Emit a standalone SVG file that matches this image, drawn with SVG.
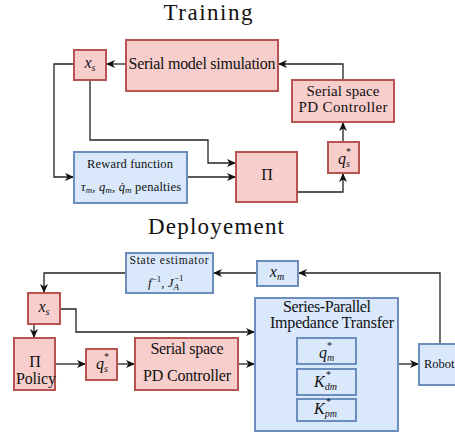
<svg xmlns="http://www.w3.org/2000/svg" width="455" height="437" viewBox="0 0 455 437" font-family="'Liberation Serif', serif">
<style>
text{fill:#111}
.red{fill:#f8cecc;stroke:#b85450;stroke-width:2}
.blue{fill:#dae8fc;stroke:#6c8ebf;stroke-width:2}
.c{fill:none;stroke:#222;stroke-width:1.3;marker-end:url(#ah)}
.i{font-style:italic}
.t{font-size:23px}
.l{font-size:16px}
.s{font-size:12.5px}
</style>
<defs>
<marker id="ah" markerUnits="userSpaceOnUse" markerWidth="10" markerHeight="10" refX="9" refY="4" orient="auto">
<path d="M0,0 L9,4 L0,8 L2.5,4 z" fill="#111"/>
</marker>
</defs>
<rect width="455" height="437" fill="#fff"/>
<text class="t" x="208" y="20" text-anchor="middle" textLength="89">Training</text>
<text class="t" x="216" y="234" text-anchor="middle" textLength="136">Deployement</text>

<g id="connectors">
<path class="c" d="M126,64 H106"/>
<path class="c" d="M343,80 V64 H278"/>
<path class="c" d="M343,142 V122"/>
<path class="c" d="M297,192 H343 V173"/>
<path class="c" d="M74,64 H54 V177 H74"/>
<path class="c" d="M90,80 V140 H208 V163 H236"/>
<path class="c" d="M187,177 H236"/>
<path class="c" d="M440,344 V273 H298"/>
<path class="c" d="M257,273 H213"/>
<path class="c" d="M126,273 H44 V293"/>
<path class="c" d="M34,324 V338"/>
<path class="c" d="M60,309 H76 V332 H255"/>
<path class="c" d="M55,364 H86"/>
<path class="c" d="M117,364 H135"/>
<path class="c" d="M238,364 H255"/>
<path class="c" d="M398,364 H419"/>
</g>

<g id="train-xs">
<rect class="red" x="74" y="50" width="32" height="30"/>
<text class="l" x="90" y="68" text-anchor="middle"><tspan class="i">x</tspan><tspan class="i" font-size="10" dy="3">s</tspan></text>
</g>
<g id="train-sim">
<rect class="red" x="126" y="40" width="152" height="51"/>
<text class="l" x="202" y="69" text-anchor="middle" textLength="147">Serial model simulation</text>
</g>
<g id="train-pd">
<rect class="red" x="292" y="80" width="102" height="42"/>
<text x="343" y="96" font-size="15" text-anchor="middle" textLength="73">Serial space</text>
<text x="343" y="112" font-size="15" text-anchor="middle" textLength="89">PD Controller</text>
</g>
<g id="train-qs">
<rect class="red" x="328" y="142" width="31" height="31"/>
<text class="l" x="338" y="164"><tspan class="i">q</tspan><tspan class="i" font-size="10" dy="3">s</tspan></text>
<text x="346" y="155" font-size="10">*</text>
</g>
<g id="train-pi">
<rect class="red" x="236" y="152" width="61" height="50"/>
<text class="l" x="267" y="180" text-anchor="middle">Π</text>
</g>
<g id="train-reward">
<rect class="blue" x="74" y="152" width="113" height="51"/>
<text class="s" x="130" y="168" text-anchor="middle" textLength="86">Reward function</text>
<text class="s" x="131" y="191" text-anchor="middle" textLength="100"><tspan class="i">τ</tspan><tspan class="i" font-size="9" dy="2">m</tspan><tspan dy="-2">, </tspan><tspan class="i">q</tspan><tspan class="i" font-size="9" dy="2">m</tspan><tspan dy="-2">, </tspan><tspan class="i">q̇</tspan><tspan class="i" font-size="9" dy="2">m</tspan><tspan dy="-2"> penalties</tspan></text>
</g>

<g id="dep-estimator">
<rect class="blue" x="126" y="253" width="87" height="40"/>
<text x="169" y="264" font-size="11.5" text-anchor="middle" textLength="79">State estimator</text>
<text x="148" y="287" font-size="13"><tspan class="i">f</tspan><tspan font-size="9" dy="-5">−1</tspan><tspan dy="5">, </tspan><tspan class="i">J</tspan><tspan class="i" font-size="9" dy="3">A</tspan></text>
<text x="174" y="281" font-size="9">−1</text>
</g>
<g id="dep-xm">
<rect class="blue" x="257" y="261" width="41" height="25"/>
<text class="l" x="277" y="277" text-anchor="middle"><tspan class="i">x</tspan><tspan class="i" font-size="10" dy="3">m</tspan></text>
</g>
<g id="dep-xs">
<rect class="red" x="28" y="293" width="32" height="31"/>
<text class="l" x="44" y="312" text-anchor="middle"><tspan class="i">x</tspan><tspan class="i" font-size="10" dy="3">s</tspan></text>
</g>
<g id="dep-policy">
<rect class="red" x="14" y="338" width="41" height="52"/>
<text class="l" x="35" y="367" text-anchor="middle">Π</text>
<text class="l" x="36" y="384" text-anchor="middle" textLength="40">Policy</text>
</g>
<g id="dep-qs">
<rect class="red" x="86" y="349" width="31" height="31"/>
<text class="l" x="96" y="369"><tspan class="i">q</tspan><tspan class="i" font-size="10" dy="3">s</tspan></text>
<text x="104" y="360" font-size="10">*</text>
</g>
<g id="dep-pd">
<rect class="red" x="135" y="338" width="103" height="52"/>
<text class="l" x="187" y="354" text-anchor="middle" textLength="73">Serial space</text>
<text class="l" x="187" y="381" text-anchor="middle" textLength="88">PD Controller</text>
</g>
<g id="dep-transfer">
<rect class="blue" x="255" y="298" width="143" height="133"/>
<text class="l" x="327" y="312" text-anchor="middle" textLength="88">Series-Parallel</text>
<text class="l" x="332" y="328" text-anchor="middle" textLength="124">Impedance Transfer</text>
<rect class="blue" x="297" y="338" width="59" height="26"/>
<text class="l" x="319" y="358"><tspan class="i">q</tspan><tspan class="i" font-size="10" dy="3">m</tspan></text>
<text x="327" y="349" font-size="10">*</text>
<rect class="blue" x="297" y="369" width="59" height="26"/>
<text class="l" x="314" y="387"><tspan class="i">K</tspan><tspan class="i" font-size="10" dy="3">dm</tspan></text>
<text x="326" y="378" font-size="10">*</text>
<rect class="blue" x="297" y="399" width="59" height="22"/>
<text class="l" x="314" y="414"><tspan class="i">K</tspan><tspan class="i" font-size="10" dy="3">pm</tspan></text>
<text x="326" y="405" font-size="10">*</text>
</g>
<g id="dep-robot">
<rect class="blue" x="419" y="344" width="50" height="41"/>
<text x="424" y="368" font-size="12.5">Robot</text>
</g>
</svg>
